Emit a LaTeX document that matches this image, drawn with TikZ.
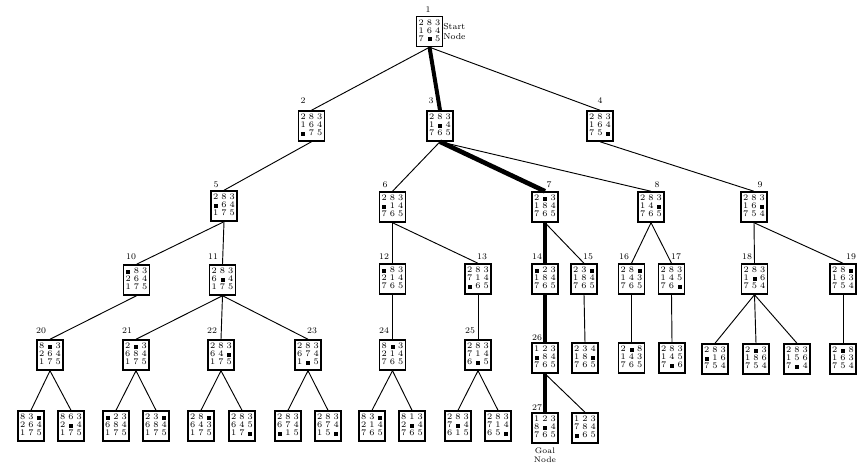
\documentclass[tikz,border=0pt]{standalone}
\newcommand\pz[9]{{\renewcommand\arraystretch{1.0}\begin{tabular}{@{}c@{\hspace{2.3pt}}c@{\hspace{2.3pt}}c@{}}#1&#2&#3\\#4&#5&#6\\#7&#8&#9\end{tabular}}}
\newcommand\pzb{\rule{3pt}{3pt}}
\begin{document}
\begin{tikzpicture}[x=0.75pt,y=-0.75pt,
  pzl/.style={draw,line width=1.1pt,minimum width=19.5pt,minimum height=22.5pt,inner sep=0pt,font=\fontsize{6.4}{5.9}\selectfont},
  lbl/.style={font=\fontsize{6.5}{7}\selectfont,inner sep=0pt},
  edge/.style={line width=0.7pt},
  sol/.style={line width=3pt}]
\useasboundingbox (0,0) rectangle (867,471);
% level 0-1
\node[pzl] (n1) at (429.5,31.5) {\pz 2831647\pzb5};
\node[pzl] (n2) at (311.5,126) {\pz 283164\pzb75};
\node[pzl] (n3) at (440,126) {\pz 2831\pzb4765};
\node[pzl] (n4) at (600,126) {\pz 28316475\pzb};
% level 2
\node[pzl] (n5) at (224,206) {\pz 283\pzb64175};
\node[pzl] (n6) at (392.5,207) {\pz 283\pzb14765};
\node[pzl] (n7) at (545,207) {\pz 2\pzb3184765};
\node[pzl] (n8) at (651,207) {\pz 28314\pzb765};
\node[pzl] (n9) at (754,207) {\pz 28316\pzb754};
% level 3
\node[pzl] (n10) at (136.5,280) {\pz \pzb83264175};
\node[pzl] (n11) at (222.5,280) {\pz 2836\pzb4175};
\node[pzl] (n12) at (392.5,279) {\pz \pzb83214765};
\node[pzl] (n13) at (478,279) {\pz 283714\pzb65};
\node[pzl] (n14) at (545,279) {\pz \pzb23184765};
\node[pzl] (n15) at (584,279) {\pz 23\pzb184765};
\node[pzl] (n16) at (631.5,279) {\pz 28\pzb143765};
\node[pzl] (n17) at (671.5,279) {\pz 28314576\pzb};
\node[pzl] (n18) at (754.5,279) {\pz 2831\pzb6754};
\node[pzl] (n19) at (843,279) {\pz 28\pzb163754};
% level 4
\node[pzl] (n20) at (50,355) {\pz 8\pzb3264175};
\node[pzl] (n21) at (136,355) {\pz 2\pzb3684175};
\node[pzl] (n22) at (221,355) {\pz 28364\pzb175};
\node[pzl] (n23) at (308,355) {\pz 2836741\pzb5};
\node[pzl] (n24) at (392.5,355) {\pz 8\pzb3214765};
\node[pzl] (n25) at (478,355) {\pz 2837146\pzb5};
\node[pzl] (n26) at (545,358) {\pz 123\pzb84765};
\node[pzl] (n15a) at (585,358) {\pz 23418\pzb765};
\node[pzl] (n16a) at (631.5,358) {\pz 2\pzb8143765};
\node[pzl] (n17a) at (672,358) {\pz 2831457\pzb6};
\node[pzl] (n18a) at (715,359) {\pz 283\pzb16754};
\node[pzl] (n18b) at (756,359) {\pz 2\pzb3186754};
\node[pzl] (n18c) at (797,359) {\pz 2831567\pzb4};
\node[pzl] (n19a) at (843,359) {\pz 2\pzb8163754};
% level 5
\node[pzl] (n20a) at (31,426) {\pz 83\pzb264175};
\node[pzl] (n20b) at (71,426) {\pz 8632\pzb4175};
\node[pzl] (n21a) at (116,426) {\pz \pzb23684175};
\node[pzl] (n21b) at (156,426) {\pz 23\pzb684175};
\node[pzl] (n22a) at (201,426) {\pz 28\pzb643175};
\node[pzl] (n22b) at (242,426) {\pz 28364517\pzb};
\node[pzl] (n23a) at (288,426) {\pz 283674\pzb15};
\node[pzl] (n23b) at (328,426) {\pz 28367415\pzb};
\node[pzl] (n24a) at (372,426) {\pz 83\pzb214765};
\node[pzl] (n24b) at (412,426) {\pz 8132\pzb4765};
\node[pzl] (n25a) at (458,426) {\pz 2837\pzb4615};
\node[pzl] (n25b) at (498,426) {\pz 28371465\pzb};
\node[pzl] (n27) at (545,428) {\pz 1238\pzb4765};
\node[pzl] (n26a) at (585,428) {\pz 123784\pzb65};
% labels
\node[lbl] (l1) at (428,10) {1};
\node[lbl,anchor=west,align=left,font=\fontsize{6.5}{7.5}\selectfont] (ls) at (443,31) {Start\\Node};
\node[lbl] (l2) at (303,101) {2};
\node[lbl] (l3) at (431,101) {3};
\node[lbl] (l4) at (600,101) {4};
\node[lbl] (l5) at (216,185) {5};
\node[lbl] (l6) at (385,185) {6};
\node[lbl] (l7) at (549,185) {7};
\node[lbl] (l8) at (657,185) {8};
\node[lbl] (l9) at (760,185) {9};
\node[lbl] (l10) at (131,257) {10};
\node[lbl] (l11) at (213,257) {11};
\node[lbl] (l12) at (384,257) {12};
\node[lbl] (l13) at (482,257) {13};
\node[lbl] (l14) at (537,257) {14};
\node[lbl] (l15) at (588,257) {15};
\node[lbl] (l16) at (624,257) {16};
\node[lbl] (l17) at (676,257) {17};
\node[lbl] (l18) at (747,257) {18};
\node[lbl] (l19) at (851,257) {19};
\node[lbl] (l20) at (41,331) {20};
\node[lbl] (l21) at (127,331) {21};
\node[lbl] (l22) at (212,331) {22};
\node[lbl] (l23) at (312,331) {23};
\node[lbl] (l24) at (384,331) {24};
\node[lbl] (l25) at (470,331) {25};
\node[lbl] (l26) at (537,338) {26};
\node[lbl] (l27) at (537,408) {27};
\node[lbl,align=center,font=\fontsize{6}{7}\selectfont] (lg) at (545,455) {Goal\\Node};
% edges
\draw[edge] (n1.south) -- (n2.north);
\draw[sol] (n1.south) -- (n3.north);
\draw[edge] (n1.south) -- (n4.north);
\draw[edge] (n2.south) -- (n5.north);
\draw[edge] (n3.south) -- (n6.north);
\draw[sol,line width=3.5pt] (n3.south) -- (n7.north);
\draw[edge] (n3.south) -- (n8.north);
\draw[edge] (n4.south) -- (n9.north);
\draw[edge] (n5.south) -- (n10.north);
\draw[edge] (n5.south) -- (n11.north);
\draw[edge] (n6.south) -- (n12.north);
\draw[edge] (n6.south) -- (n13.north);
\draw[sol] (n7.south) -- (n14.north);
\draw[edge] (n7.south) -- (n15.north);
\draw[edge] (n8.south) -- (n16.north);
\draw[edge] (n8.south) -- (n17.north);
\draw[edge] (n9.south) -- (n18.north);
\draw[edge] (n9.south) -- (n19.north);
\draw[edge] (n10.south) -- (n20.north);
\draw[edge] (n11.south) -- (n21.north);
\draw[edge] (n11.south) -- (n22.north);
\draw[edge] (n11.south) -- (n23.north);
\draw[edge] (n12.south) -- (n24.north);
\draw[edge] (n13.south) -- (n25.north);
\draw[sol] (n14.south) -- (n26.north);
\draw[edge] (n15.south) -- (n15a.north);
\draw[edge] (n16.south) -- (n16a.north);
\draw[edge] (n17.south) -- (n17a.north);
\draw[edge] (n18.south) -- (n18a.north);
\draw[edge] (n18.south) -- (n18b.north);
\draw[edge] (n18.south) -- (n18c.north);
\draw[edge] (n19.south) -- (n19a.north);
\draw[edge] (n20.south) -- (n20a.north);
\draw[edge] (n20.south) -- (n20b.north);
\draw[edge] (n21.south) -- (n21a.north);
\draw[edge] (n21.south) -- (n21b.north);
\draw[edge] (n22.south) -- (n22a.north);
\draw[edge] (n22.south) -- (n22b.north);
\draw[edge] (n23.south) -- (n23a.north);
\draw[edge] (n23.south) -- (n23b.north);
\draw[edge] (n24.south) -- (n24a.north);
\draw[edge] (n24.south) -- (n24b.north);
\draw[edge] (n25.south) -- (n25a.north);
\draw[edge] (n25.south) -- (n25b.north);
\draw[sol] (n26.south) -- (n27.north);
\draw[edge] (n26.south) -- (n26a.north);
\end{tikzpicture}
\end{document}
